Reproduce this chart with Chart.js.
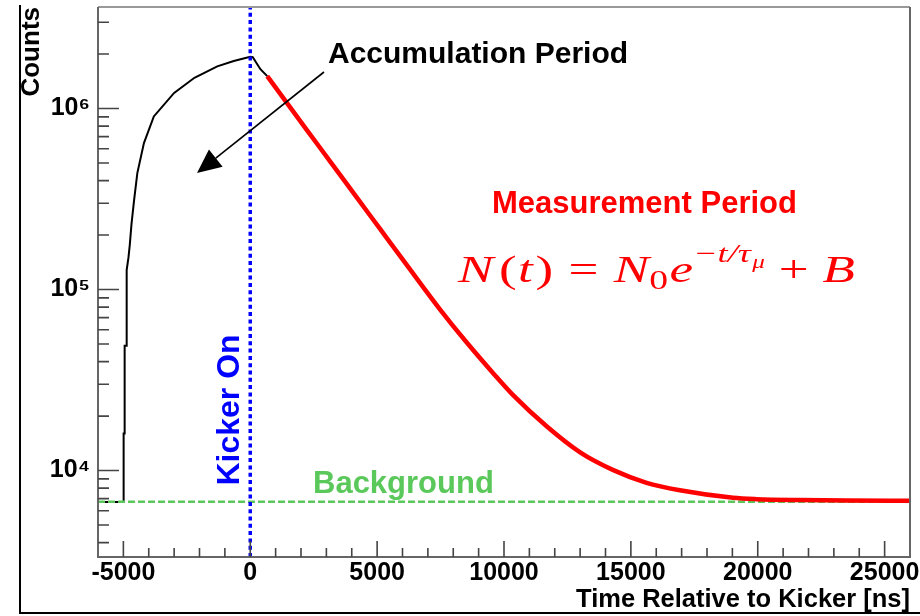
<!DOCTYPE html>
<html>
<head>
<meta charset="utf-8">
<script src="https://cdn.jsdelivr.net/npm/chart.js@4.4.1/dist/chart.umd.min.js"></script>
<style>
html,body{margin:0;padding:0;background:#fff;}
canvas{display:block;}
</style>
</head>
<body>
<canvas id="c" width="920" height="616"></canvas>
<script>
// ---- data ----
const accumTime = [-6000, -5000, -4990, -4960, -4950, -4880, -4870, -4800, -4750, -4680, -4580, -4450, -4190, -3800, -3000, -2200, -1300, -650, 0, 100, 400, 670];
const accumCounts = [6700, 6700, 16000, 16000, 49000, 49000, 128000, 150000, 175000, 230000, 310000, 440000, 645000, 905000, 1220000, 1480000, 1710000, 1830000, 1930000, 1920000, 1650000, 1510000];

const fitTime = [670, 1320, 2240, 3160, 4210, 5130, 6180, 7490, 8540, 9590, 10370, 11690, 13000, 14310, 15620, 16930, 19030, 19950, 21660, 23500, 26000];
const fitCounts = [1510000, 1134000, 758000, 508000, 321000, 215000, 136000, 77300, 50800, 34300, 26000, 17500, 12600, 10050, 8550, 7780, 7070, 6950, 6870, 6830, 6810];

const backgroundLevel = [6720];
const kickerTime = [0];

const xRange = [-6000, 26000];
const yRange = [3330, 3640000];

const xMajorTicks = [-5000, 0, 5000, 10000, 15000, 20000, 25000];
const xTickLabels = ['-5000', '0', '5000', '10000', '15000', '20000', '25000'];
const xMinorTicks = [-4000, -3000, -2000, -1000, 1000, 2000, 3000, 4000, 6000, 7000, 8000, 9000, 11000, 12000, 13000, 14000, 16000, 17000, 18000, 19000, 21000, 22000, 23000, 24000];

const yMajorTicks = [10000, 100000, 1000000];
const yTickLabels = ['10⁴', '10⁵', '10⁶'];
const yMinorTicks = [4000, 5000, 6000, 7000, 8000, 9000, 20000, 30000, 40000, 50000, 60000, 70000, 80000, 90000, 200000, 300000, 400000, 500000, 600000, 700000, 800000, 900000, 2000000, 3000000];

// ---- helpers ----
const SANS = "'Liberation Sans', Arial, Helvetica, sans-serif";
const SERIF = "'Liberation Serif', 'Times New Roman', serif";
const toPts = (xs, ys) => xs.map((x, i) => ({x: x, y: ys[i]}));

const formulaPieces = [
  {t: 'N', it: true, s: 38, dy: 0, gap: 0},
  {t: '(', it: false, s: 38, dy: 0, gap: 4},
  {t: 't', it: true, s: 38, dy: 0, gap: 1},
  {t: ')', it: false, s: 38, dy: 0, gap: 2},
  {t: '=', it: false, s: 38, dy: 0, gap: 11},
  {t: 'N', it: true, s: 38, dy: 0, gap: 11},
  {t: '0', it: false, s: 27, dy: 7, gap: 0},
  {t: 'e', it: true, s: 38, dy: 0, gap: 1},
  {t: '\u2212', it: false, s: 26, dy: -20, gap: 2},
  {t: 't/\u03c4', it: true, s: 26, dy: -20, gap: 1},
  {t: '\u03bc', it: true, s: 18, dy: -14, gap: 1},
  {t: '+', it: false, s: 38, dy: 0, gap: 10},
  {t: 'B', it: true, s: 38, dy: 0, gap: 10}
];

const annotations = {
  id: 'annotations',
  afterDatasetsDraw(chart) {
    const ctx = chart.ctx, ca = chart.chartArea;
    const xs = chart.scales.x, ys = chart.scales.y;
    ctx.save();
    // frame
    ctx.lineWidth = 2;
    ctx.strokeStyle = '#999';
    ctx.beginPath();
    ctx.moveTo(ca.left, ca.top); ctx.lineTo(ca.right, ca.top);
    ctx.stroke();
    ctx.strokeStyle = '#666';
    ctx.beginPath();
    ctx.moveTo(ca.left, ca.top); ctx.lineTo(ca.left, ca.bottom); ctx.lineTo(ca.right, ca.bottom); ctx.lineTo(ca.right, ca.top);
    ctx.stroke();
    // ticks (inward, ROOT style)
    ctx.strokeStyle = '#444';
    ctx.lineWidth = 1.6;
    ctx.beginPath();
    xMajorTicks.forEach(v => { const p = xs.getPixelForValue(v); ctx.moveTo(p, ca.bottom); ctx.lineTo(p, ca.bottom - 16); });
    xMinorTicks.forEach(v => { const p = xs.getPixelForValue(v); ctx.moveTo(p, ca.bottom); ctx.lineTo(p, ca.bottom - 9); });
    yMajorTicks.forEach(v => { const p = ys.getPixelForValue(v); ctx.moveTo(ca.left, p); ctx.lineTo(ca.left + 21, p); });
    yMinorTicks.forEach(v => { const p = ys.getPixelForValue(v); ctx.moveTo(ca.left, p); ctx.lineTo(ca.left + 11, p); });
    ctx.stroke();
    ctx.restore();
  },
  afterDraw(chart) {
    const ctx = chart.ctx;
    ctx.save();
    // outer pad border (left & bottom)
    ctx.strokeStyle = '#000';
    ctx.lineWidth = 2;
    ctx.beginPath();
    ctx.moveTo(20, 5); ctx.lineTo(20, 613); ctx.lineTo(920, 613);
    ctx.stroke();

    // arrow
    const sx = 324, sy = 72, tx = 197, ty = 173;
    const dx = sx - tx, dy = sy - ty, L = Math.hypot(dx, dy);
    const ux = dx / L, uy = dy / L, nx = -uy, ny = ux;
    const hl = 24, hw = 11;
    const bx = tx + ux * hl, by = ty + uy * hl;
    ctx.strokeStyle = '#000';
    ctx.lineWidth = 1.6;
    ctx.beginPath(); ctx.moveTo(sx, sy); ctx.lineTo(bx, by); ctx.stroke();
    ctx.fillStyle = '#000';
    ctx.beginPath();
    ctx.moveTo(tx, ty);
    ctx.lineTo(bx + nx * hw, by + ny * hw);
    ctx.lineTo(bx - nx * hw, by - ny * hw);
    ctx.closePath(); ctx.fill();

    ctx.textBaseline = 'alphabetic';
    ctx.textAlign = 'left';
    // Accumulation Period
    ctx.fillStyle = '#000';
    ctx.font = 'bold 30px ' + SANS;
    ctx.fillText('Accumulation Period', 328, 63);
    // Measurement Period
    ctx.fillStyle = '#ff0000';
    ctx.font = 'bold 31px ' + SANS;
    ctx.fillText('Measurement Period', 492, 213);
    // Formula: laid out piece by piece, stretched to the reference width
    const fontOf = p => (p.it ? 'italic ' : '') + p.s + 'px ' + SERIF;
    let W = 0;
    formulaPieces.forEach(p => { ctx.font = fontOf(p); W += p.gap + ctx.measureText(p.t).width; });
    ctx.save();
    ctx.translate(458, 282);
    ctx.scale(397 / W, 1);
    let cx = 0;
    formulaPieces.forEach(p => {
      ctx.font = fontOf(p);
      cx += p.gap;
      ctx.fillText(p.t, cx, p.dy);
      cx += ctx.measureText(p.t).width;
    });
    ctx.restore();
    // Background
    ctx.fillStyle = '#5ac85a';
    ctx.font = 'bold 31px ' + SANS;
    ctx.fillText('Background', 313, 493);
    // Kicker On (rotated)
    ctx.save();
    ctx.translate(239, 410);
    ctx.rotate(-Math.PI / 2);
    ctx.fillStyle = '#0000ff';
    ctx.textAlign = 'center';
    ctx.font = 'bold 32px ' + SANS;
    ctx.fillText('Kicker On', 0, 0);
    ctx.restore();
    ctx.restore();
  }
};

new Chart(document.getElementById('c'), {
  type: 'line',
  data: {
    datasets: [
      {
        label: 'Kicker On',
        data: [{x: kickerTime[0], y: yRange[0]}, {x: kickerTime[0], y: yRange[1]}],
        borderColor: '#0000ff', borderWidth: 3.5, borderDash: [4, 3.3],
        pointRadius: 0, order: 0
      },
      {
        label: 'Measurement Period',
        data: toPts(fitTime, fitCounts),
        borderColor: '#ff0000', borderWidth: 4.5,
        cubicInterpolationMode: 'monotone',
        pointRadius: 0, order: 1
      },
      {
        label: 'Background',
        data: [{x: xRange[0], y: backgroundLevel[0]}, {x: xRange[1], y: backgroundLevel[0]}],
        borderColor: '#5ac85a', borderWidth: 2.5, borderDash: [7, 3],
        pointRadius: 0, order: 2
      },
      {
        label: 'Accumulation Period',
        data: toPts(accumTime, accumCounts),
        borderColor: '#000', borderWidth: 2,
        tension: 0,
        pointRadius: 0, order: 3
      }
    ]
  },
  options: {
    responsive: false,
    animation: false,
    devicePixelRatio: 1,
    layout: {padding: {top: 7, right: 10, left: 0, bottom: 0}},
    plugins: {legend: {display: false}, tooltip: {enabled: false}},
    scales: {
      x: {
        type: 'linear',
        min: xRange[0], max: xRange[1],
        grid: {display: false, drawTicks: false},
        border: {display: false},
        afterBuildTicks: s => { s.ticks = xMajorTicks.map(v => ({value: v})); },
        afterFit: s => { s.height = 59; s.paddingLeft = 0; s.paddingRight = 0; },
        ticks: {
          autoSkip: false, maxRotation: 0, minRotation: 0, padding: 1,
          color: '#000',
          font: {family: SANS, size: 25, weight: 'bold'},
          callback: v => { const i = xMajorTicks.indexOf(v); return i >= 0 ? xTickLabels[i] : ''; }
        },
        title: {
          display: true, text: 'Time Relative to Kicker [ns]', align: 'end',
          color: '#000', font: {family: SANS, size: 25.5, weight: 'bold'},
          padding: {top: 0, bottom: 1}
        }
      },
      y: {
        type: 'logarithmic',
        min: yRange[0], max: yRange[1],
        grid: {display: false, drawTicks: false},
        border: {display: false},
        afterBuildTicks: s => { s.ticks = yMajorTicks.map(v => ({value: v})); },
        afterFit: s => { s.width = 98; s.paddingTop = 0; s.paddingBottom = 0; },
        ticks: {
          autoSkip: false, padding: 8,
          color: '#000',
          font: {family: SANS, size: 25, weight: 'bold'},
          callback: v => { const i = yMajorTicks.indexOf(v); return i >= 0 ? yTickLabels[i] : ''; }
        },
        title: {
          display: true, text: 'Counts', align: 'end',
          color: '#000', font: {family: SANS, size: 26, weight: 'bold'},
          padding: {top: 16, bottom: 0}
        }
      }
    }
  },
  plugins: [annotations]
});
</script>
</body>
</html>
